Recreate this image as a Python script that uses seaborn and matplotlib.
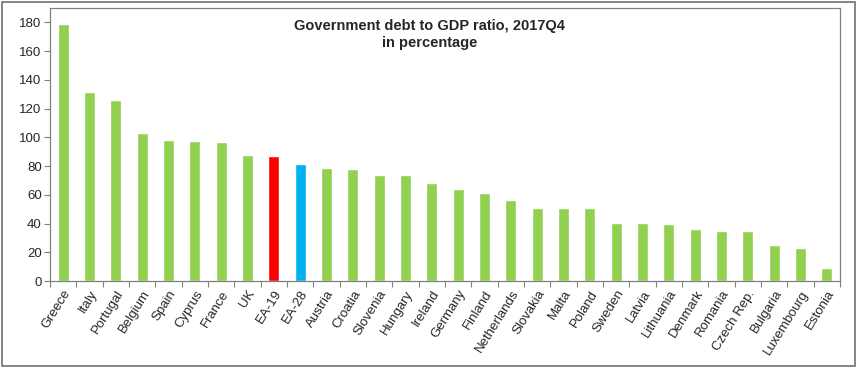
import matplotlib
matplotlib.use("Agg")
import matplotlib.pyplot as plt
import seaborn as sns
import pandas as pd
from matplotlib.patches import Rectangle

countries = ["Greece", "Italy", "Portugal", "Belgium", "Spain", "Cyprus", "France", "UK",
             "EA-19", "EA-28", "Austria", "Croatia", "Slovenia", "Hungary", "Ireland",
             "Germany", "Finland", "Netherlands", "Slovakia", "Malta", "Poland", "Sweden",
             "Latvia", "Lithuania", "Denmark", "Romania", "Czech Rep.", "Bulgaria",
             "Luxembourg", "Estonia"]
debt = [178.6, 131.8, 125.7, 103.1, 98.3, 97.5, 97.0, 87.7, 86.7, 81.6, 78.4, 78.0,
        73.6, 73.6, 68.0, 64.1, 61.4, 56.7, 50.9, 50.8, 50.6, 40.6, 40.1, 39.7, 36.4,
        35.0, 34.6, 25.4, 23.0, 9.0]
yticks = [0, 20, 40, 60, 80, 100, 120, 140, 160, 180]

GREEN = "#92D050"
RED = "#FF0000"
BLUE = "#00B0F0"
palette = {c: (RED if c == "EA-19" else BLUE if c == "EA-28" else GREEN) for c in countries}

df = pd.DataFrame({"country": countries, "debt": debt})

sns.set_style("white")
plt.rcParams["font.family"] = ["Liberation Sans", "DejaVu Sans"]

fig = plt.figure(figsize=(8.57, 3.70), dpi=100)
ax = fig.add_axes([50 / 857, 1 - 281 / 370, 790 / 857, 273 / 370])

sns.barplot(data=df, x="country", y="debt", hue="country", palette=palette,
            order=countries, width=0.42, legend=False, ax=ax, saturation=1)

ax.set_xlim(-0.5, len(countries) - 0.5)
ax.set_ylim(0, 190)
ax.set_yticks(yticks)
ax.set_yticklabels([str(v) for v in yticks], fontsize=9.5)
ax.set_xlabel("")
ax.set_ylabel("")

# tick marks at category boundaries
ax.set_xticks(range(len(countries)))
ax.set_xticklabels(countries, rotation=58, ha="right", rotation_mode="anchor",
                   fontsize=9.5)
ax.tick_params(axis="x", which="major", length=0, pad=5, bottom=True)
ax.set_xticks([i - 0.5 for i in range(len(countries) + 1)], minor=True)
ax.tick_params(axis="x", which="minor", length=4, color="#808080", width=0.8,
               bottom=True, direction="out")
ax.tick_params(axis="y", length=4, color="#808080", width=0.8, pad=2,
               left=True, direction="out")

for s in ax.spines.values():
    s.set_color("#808080")
    s.set_linewidth(0.9)

ax.text(0.48, 0.96, "Government debt to GDP ratio, 2017Q4\nin percentage",
        transform=ax.transAxes, ha="center", va="top", fontsize=10.5,
        fontweight="bold", linespacing=1.25)

fig.patches.append(Rectangle((2 / 857, 4 / 370), 853 / 857, 364 / 370,
                             transform=fig.transFigure, fill=False,
                             edgecolor="#707070", linewidth=1.2))

fig.savefig("out.png", dpi=100)
